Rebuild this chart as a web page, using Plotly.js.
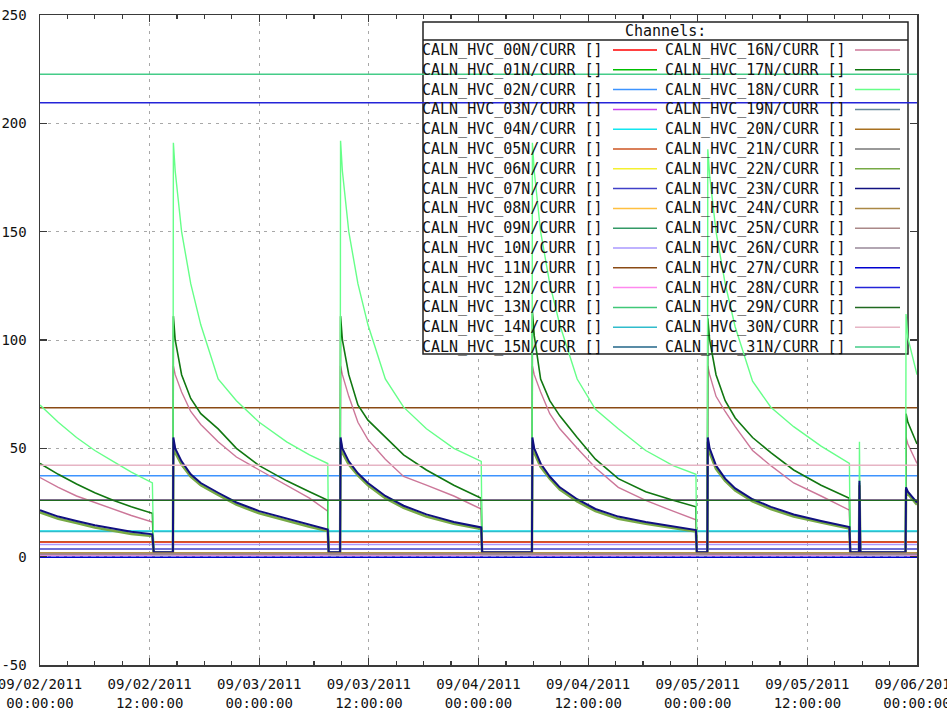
<!DOCTYPE html>
<html>
<head>
<meta charset="utf-8">
<script src="https://cdn.plot.ly/plotly-3.0.1.min.js"></script>
<style>html,body{margin:0;padding:0;background:#fff;}#chart{width:947px;height:712px;}</style>
</head>
<body>
<div id="chart"></div>
<script>
// ---------- DATA ----------
// Time (hours after 2011-09-02 00:00) for the cycling channels
var hoursCyc = [0, 2, 4, 6, 8, 10, 12.3, 12.45, 14.55,
  14.6, 14.8, 15.5, 16.5, 17.6, 19.5, 21.5, 24, 27, 29.5, 31.5,
  31.6, 32.85, 32.9, 33.1, 33.8, 34.8, 35.9, 37.8, 39.8, 42.3, 45.3, 48.3,
  48.4, 53.85, 53.9, 54.1, 54.8, 55.8, 56.9, 58.8, 60.8, 63.3, 66.3, 69.3, 71.8,
  71.9, 73.05, 73.1, 73.3, 74, 75, 76.1, 78, 80, 82.5, 85.5, 88.6,
  88.7, 89.65, 89.7, 89.8, 94.75, 94.8, 95, 96];
// Time for the steady channels
var hoursFlat = [0, 96];

var ch18 = [70, 62, 55, 49, 44, 39, 34, 1, 1,
  191, 178, 150, 126, 107, 82, 72, 62, 53, 47, 43,
  1, 1, 192, 178, 150, 126, 107, 82, 69, 59, 50, 44,
  1, 1, 191, 178, 150, 126, 107, 82, 68, 59, 49, 42, 38,
  1, 1, 188, 176, 150, 126, 106, 81, 69, 60, 51, 43,
  1, 1, 53, 1, 1, 112, 101, 84];
var ch17 = [43, 38, 33.5, 29.5, 26, 23, 20, 2, 2,
  111, 100, 84, 73, 66, 59, 50, 42, 35, 30, 26,
  2, 2, 111, 100, 84, 70, 63, 55, 47, 40, 33, 27,
  2, 2, 113, 102, 82, 72, 65, 55, 45, 36, 30, 26, 23,
  2, 2, 110, 100, 84, 72, 64, 55, 48, 40, 33, 27,
  2, 2, 34, 2, 2, 66, 62, 52];
var ch16 = [36.5, 32, 28, 25, 22, 19, 16, 1.5, 1.5,
  88, 84, 76, 67, 61, 53, 46, 40, 33, 27, 21,
  1.5, 1.5, 88, 84, 74, 62, 54, 45, 37, 33, 28, 22,
  1.5, 1.5, 88, 84, 76, 66, 59, 50, 41, 32, 26, 21, 17,
  1.5, 1.5, 88, 84, 74, 67, 60, 49, 42, 34, 28, 21.5,
  1.5, 1.5, 30, 1.5, 1.5, 55, 52, 43];
var ch23 = [21.5, 18.5, 16.5, 14.5, 13, 11.5, 10.3, 2, 2,
  55, 50, 44, 38, 34, 29.5, 25, 21, 17.5, 14.5, 12.5,
  2, 2, 55, 50, 44, 38.5, 34, 28, 23.5, 19.5, 16, 13.5,
  2, 2, 55, 50, 43, 37, 32, 26.5, 22, 18.5, 16, 14, 12.3,
  2, 2, 55, 50, 42, 36, 31.5, 26.5, 23, 19.5, 16.5, 13.7,
  2, 2, 35, 2, 2, 32, 30, 25];
var ch22 = [20.5, 17.5, 15.5, 13.5, 12, 10.5, 9.5, 1.5, 1.5,
  53, 48, 42.5, 37, 33, 28.5, 24, 20, 16.5, 13.8, 11.8,
  1.5, 1.5, 53, 48, 42.5, 37.5, 33, 27, 22.5, 18.5, 15.2, 12.8,
  1.5, 1.5, 53, 48, 41.5, 36, 31, 25.5, 21, 17.5, 15.2, 13.3, 11.6,
  1.5, 1.5, 53, 48, 40.5, 35, 30.5, 25.5, 22, 18.6, 15.8, 13,
  1.5, 1.5, 33, 1.5, 1.5, 31, 29, 24];

// steady channels
var ch00 = [6.8, 6.8];
var ch01 = [0.9, 0.9];
var ch02 = [37.3, 37.3];
var ch03 = [26.2, 26.2];
var ch04 = [11.8, 11.8];
var ch05 = [6.9, 6.9];
var ch06 = [0.6, 0.6];
var ch07 = [3.5, 3.5];
var ch08 = [1.8, 1.8];
var ch09 = [1.0, 1.0];
var ch10 = [5.6, 5.6];
var ch11 = [68.7, 68.7];
var ch12 = [0.7, 0.7];
var ch13 = [1.3, 1.3];
var ch14 = [11.6, 11.6];
var ch15 = [1.2, 1.2];
var ch19 = [1.5, 1.5];
var ch20 = [1.1, 1.1];
var ch21 = [1.4, 1.4];
var ch24 = [1.7, 1.7];
var ch25 = [1.2, 1.2];
var ch26 = [1.0, 1.0];
var ch27 = [-0.3, -0.3];
var ch28 = [209.5, 209.5];
var ch29 = [26.0, 26.0];
var ch30 = [42.2, 42.2];
var ch31 = [222.7, 222.7];

var channelNames = [
  'CALN_HVC_00N/CURR []', 'CALN_HVC_01N/CURR []', 'CALN_HVC_02N/CURR []', 'CALN_HVC_03N/CURR []',
  'CALN_HVC_04N/CURR []', 'CALN_HVC_05N/CURR []', 'CALN_HVC_06N/CURR []', 'CALN_HVC_07N/CURR []',
  'CALN_HVC_08N/CURR []', 'CALN_HVC_09N/CURR []', 'CALN_HVC_10N/CURR []', 'CALN_HVC_11N/CURR []',
  'CALN_HVC_12N/CURR []', 'CALN_HVC_13N/CURR []', 'CALN_HVC_14N/CURR []', 'CALN_HVC_15N/CURR []',
  'CALN_HVC_16N/CURR []', 'CALN_HVC_17N/CURR []', 'CALN_HVC_18N/CURR []', 'CALN_HVC_19N/CURR []',
  'CALN_HVC_20N/CURR []', 'CALN_HVC_21N/CURR []', 'CALN_HVC_22N/CURR []', 'CALN_HVC_23N/CURR []',
  'CALN_HVC_24N/CURR []', 'CALN_HVC_25N/CURR []', 'CALN_HVC_26N/CURR []', 'CALN_HVC_27N/CURR []',
  'CALN_HVC_28N/CURR []', 'CALN_HVC_29N/CURR []', 'CALN_HVC_30N/CURR []', 'CALN_HVC_31N/CURR []'
];
var yTickVals = [-50, 0, 50, 100, 150, 200, 250];
var yTickText = ['-50', '0', '50', '100', '150', '200', '250'];
var legendTitle = 'Channels:';

// ---------- STYLE ----------
var colors = ['#ff0000', '#00c000', '#3d94ff', '#cc44ee', '#11e6f0', '#cc5522', '#f4f030', '#4040c8',
  '#ffc040', '#339966', '#aa99ff', '#8a4a14', '#ff88ee', '#40c878', '#30bccc', '#226688',
  '#cc7799', '#117711', '#66ff88', '#668899', '#a87020', '#777777', '#77aa44', '#101080',
  '#aa8844', '#aa8888', '#998899', '#0000d0', '#2424d8', '#206a20', '#e6b4c4', '#44cc88'];
var widths = {16: 1.4, 17: 1.6, 18: 1.4, 22: 2.6, 23: 2.0};

var channelY = [ch00, ch01, ch02, ch03, ch04, ch05, ch06, ch07, ch08, ch09, ch10, ch11, ch12, ch13, ch14, ch15,
  ch16, ch17, ch18, ch19, ch20, ch21, ch22, ch23, ch24, ch25, ch26, ch27, ch28, ch29, ch30, ch31];

var base = Date.UTC(2011, 8, 2, 0, 0, 0);
var HOUR = 3600000;
function toTime(hArr) { return hArr.map(function (h) { return base + h * HOUR; }); }
var tCyc = toTime(hoursCyc), tFlat = toTime(hoursFlat);

var traces = [];
for (var i = 0; i < 32; i++) {
  var ys = channelY[i];
  traces.push({
    type: 'scatter', mode: 'lines', name: channelNames[i],
    x: ys.length === hoursCyc.length ? tCyc : tFlat,
    y: ys,
    line: {color: colors[i], width: widths[i] || 1.5},
    hoverinfo: 'skip'
  });
}

// ---------- LEGEND (drawn box: names left, line samples right) ----------
var L = 40, R = 917, T = 15, B = 665;
function px(x) { return (x - L) / (R - L); }
function py(y) { return (B - y) / (B - T); }
function dx(x) { return base + (x - L) / (R - L) * 96 * HOUR; }
function dy(y) { return 250 - (y - T) / (B - T) * 300; }

var shapes = [
  {type: 'rect', xref: 'x', yref: 'y', layer: 'between',
    x0: dx(423), x1: dx(908), y0: dy(354), y1: dy(22),
    fillcolor: '#ffffff', line: {color: '#222222', width: 1.5}},
  {type: 'line', xref: 'paper', yref: 'paper', layer: 'above',
    x0: px(423), x1: px(908), y0: py(40), y1: py(40), line: {color: '#222222', width: 1.5}}
];
var annotations = [
  {xref: 'paper', yref: 'paper', x: px(665.5), y: py(30.5), text: legendTitle, showarrow: false,
    xanchor: 'center', yanchor: 'middle', font: {family: 'DejaVu Sans Mono', size: 15, color: '#111'}}
];
for (var k = 0; k < 32; k++) {
  var col = k < 16 ? 0 : 1, row = k % 16;
  var yy = 50 + row * 19.8;
  annotations.push({xref: 'paper', yref: 'paper', x: px(col ? 663 : 420), y: py(yy), text: channelNames[k],
    showarrow: false, xanchor: 'left', yanchor: 'middle',
    font: {family: 'DejaVu Sans Mono', size: 15, color: '#111'}});
  shapes.push({type: 'line', xref: 'paper', yref: 'paper', layer: 'above',
    x0: px(col ? 855 : 613), x1: px(col ? 900 : 657), y0: py(yy), y1: py(yy),
    line: {color: colors[k], width: 1.5}});
}

var axCommon = {
  showline: true, linecolor: '#3a3a3a', linewidth: 1.5, mirror: 'allticks',
  ticks: 'inside', ticklen: 7, tickcolor: '#3a3a3a', tickwidth: 1.2,
  showgrid: true, gridcolor: '#a8a8a8', gridwidth: 1, griddash: '3px,5px',
  zeroline: false, fixedrange: true, ticklabeloverflow: 'allow',
  tickfont: {family: 'DejaVu Sans Mono', size: 14, color: '#111'}
};

var layout = {
  width: 947, height: 712,
  margin: {l: L, r: 947 - R, t: T, b: 712 - B, pad: 0},
  paper_bgcolor: '#ffffff', plot_bgcolor: '#ffffff',
  showlegend: false,
  xaxis: Object.assign({}, axCommon, {
    type: 'date', range: ['2011-09-02 00:00:00', '2011-09-06 00:00:00'],
    tick0: '2011-09-02 00:00:00', dtick: 12 * HOUR,
    tickformat: '%m/%d/%Y<br>%H:%M:%S', ticklabelstandoff: 6,
    minor: {dtick: 3 * HOUR, ticks: 'inside', ticklen: 4, tickcolor: '#3a3a3a', showgrid: false}
  }),
  yaxis: Object.assign({}, axCommon, {
    range: [-50, 250], tickvals: yTickVals, ticktext: yTickText, ticklabelstandoff: 9
  }),
  shapes: shapes,
  annotations: annotations
};

Plotly.newPlot('chart', traces, layout, {displayModeBar: false, staticPlot: true});
</script>
</body>
</html>
